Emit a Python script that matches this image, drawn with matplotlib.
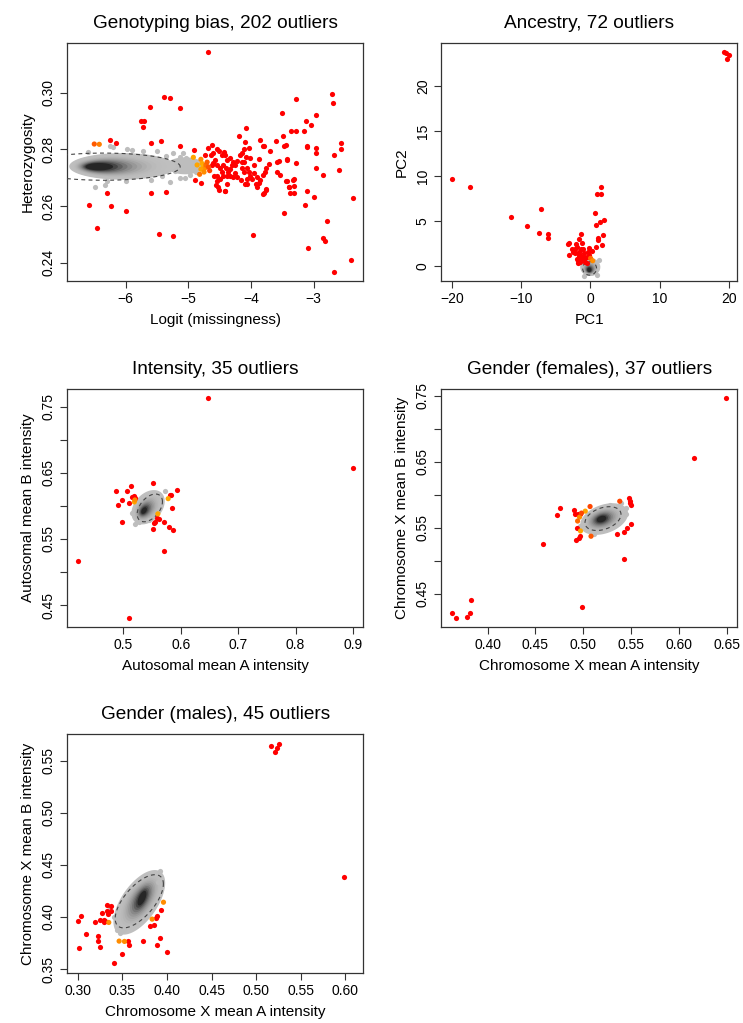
import numpy as np
import matplotlib
matplotlib.use('Agg')
import matplotlib.pyplot as plt
from matplotlib.patches import Polygon

plt.rcParams['font.family'] = ['Liberation Sans', 'DejaVu Sans']

# ---------------- Genotyping bias ----------------
gb_red_x = [-4.68, -2.71, -2.70, -5.29, -5.39, -5.61, -5.13, -3.28, -3.50, -2.97,
            -3.12, -3.04, -5.76, -5.70, -5.73, -4.08, -4.19, -3.49, -3.37, -3.29,
            -3.15, -4.10, -3.85, -3.60, -3.47, -3.81, -5.43, -5.59, -6.25, -6.15,
            -5.13, -3.11, -3.10, -2.97, -2.97, -2.57, -2.56, -2.67, -2.59, -2.97,
            -3.43, -3.29, -2.86, -3.43, -3.33, -3.32, -3.38, -3.32, -3.40, -3.10,
            -2.99, -3.14, -2.37, -3.48, -2.79, -2.86, -2.82, -3.09, -2.41, -2.67,
            -3.97, -5.24, -5.47, -6.00, -6.46, -6.58, -6.24, -6.29, -5.60, -5.36,
            -3.76, -3.80, -4.41, -4.07, -4.80, -4.91, -4.89,
            -4.63, -4.69, -4.55, -4.51, -4.43, -4.41, -4.60, -4.74, -4.64, -4.34,
            -4.12, -4.04, -4.14, -4.08, -4.01, -4.11, -3.88, -3.79, -3.69, -3.45,
            -3.42,
            -4.57, -4.60, -4.63, -4.55, -4.49, -4.44, -4.40, -4.36, -4.34, -4.31,
            -4.28, -4.26, -4.28, -4.34, -4.39, -4.44, -4.47, -4.49, -4.54, -4.55,
            -4.59, -4.52, -4.41, -4.39, -4.26, -4.22, -4.15, -4.15, -4.12, -4.07,
            -4.04, -4.02, -3.99, -3.95, -3.91, -3.88, -3.86, -3.81, -3.78, -3.76,
            -3.90, -3.92, -4.07, -4.10, -4.16, -4.23, -3.71, -3.59, -3.56, -3.59,
            -3.54, -3.45, -3.40, -3.32, -3.76, -3.81, -4.39, -4.47, -4.18, -3.96,
            -4.51, -4.56]
gb_red_y = [0.3143, 0.2997, 0.2965, 0.2980, 0.2984, 0.2950, 0.2948, 0.2978, 0.2930, 0.2922,
            0.2902, 0.2886, 0.2899, 0.2899, 0.2878, 0.2877, 0.2847, 0.2846, 0.2864, 0.2864,
            0.2864, 0.2827, 0.2832, 0.2829, 0.2813, 0.2813, 0.2829, 0.2824, 0.2834, 0.2821,
            0.2812, 0.2813, 0.2807, 0.2805, 0.2789, 0.2821, 0.2802, 0.2782, 0.2728, 0.2734,
            0.2765, 0.2751, 0.2709, 0.2687, 0.2692, 0.2672, 0.2645, 0.2645, 0.2666, 0.2653,
            0.2633, 0.2604, 0.2627, 0.2577, 0.2548, 0.2486, 0.2475, 0.2451, 0.2408, 0.2367,
            0.2497, 0.2493, 0.2500, 0.2583, 0.2523, 0.2603, 0.2601, 0.2645, 0.2647, 0.2650,
            0.2661, 0.2647, 0.2654, 0.2679, 0.2683, 0.2798, 0.2692,
            0.2817, 0.2804, 0.2802, 0.2794, 0.2792, 0.2782, 0.2786, 0.2780, 0.2779, 0.2769,
            0.2801, 0.2804, 0.2786, 0.2774, 0.2771, 0.2757, 0.2767, 0.2812, 0.2794, 0.2814,
            0.2763,
            0.2762, 0.2753, 0.2744, 0.2744, 0.2733, 0.2744, 0.2733, 0.2721, 0.2729, 0.2744,
            0.2756, 0.2715, 0.2701, 0.2706, 0.2706, 0.2706, 0.2721, 0.2697, 0.2689, 0.2706,
            0.2706, 0.2668, 0.2654, 0.2676, 0.2744, 0.2760, 0.2756, 0.2733, 0.2721, 0.2736,
            0.2721, 0.2706, 0.2694, 0.2715, 0.2701, 0.2680, 0.2692, 0.2709, 0.2721, 0.2733,
            0.2666, 0.2677, 0.2694, 0.2677, 0.2691, 0.2701, 0.2748, 0.2755, 0.2760, 0.2720,
            0.2709, 0.2689, 0.2668, 0.2694, 0.2658, 0.2644, 0.2762, 0.2780, 0.2780, 0.2744,
            0.2656, 0.2674]
gb_mid_x = [-6.50, -6.42, -4.92, -4.80, -4.78, -4.76, -4.74, -4.80, -4.72, -4.70,
            -4.68, -4.82, -4.75, -4.66, -4.86]
gb_mid_y = [0.2819, 0.2818, 0.2772, 0.2765, 0.2750, 0.2740, 0.2733, 0.2730, 0.2745, 0.2755,
            0.2738, 0.2712, 0.2720, 0.2725, 0.2745]
gb_mid_c = ['#FF5A00', '#FF7F00', '#FFA500', '#FF8C00', '#FFA500', '#FFB000', '#FF9000',
            '#FFA000', '#FF7000', '#FF6000', '#FF5000', '#FF7000', '#FF8C00', '#FF4500', '#FFA500']
gb_grey_x = [-6.49, -6.33, -6.25, -6.20, -5.98, -5.90, -5.72, -5.24, -5.13, -5.08,
             -5.03, -5.00, -4.95, -5.05, -5.13, -5.29, -4.92, -4.87, -6.30, -6.00,
             -5.60, -6.60, -5.50, -5.18, -4.97, -5.35, -5.42, -5.22]
gb_grey_y = [0.2668, 0.2674, 0.2812, 0.2810, 0.2802, 0.2797, 0.2795, 0.2786, 0.2774, 0.2786,
             0.2769, 0.2738, 0.2727, 0.2698, 0.2698, 0.2686, 0.2756, 0.2721, 0.2688, 0.2690,
             0.2692, 0.2790, 0.2793, 0.2760, 0.2710, 0.2775, 0.2705, 0.2722]

# ---------------- Ancestry ----------------
an_red_x = [19.28, 19.66, 20.0, 19.71, -20.0, -17.4, -11.42, -9.2, -7.18, -7.47,
            -6.17, -6.17, -3.23, -3.04, -3.04, 1.59, 1.01, 1.59, 0.72, 1.40,
            2.02, 0.77, 1.88, 1.06, 1.06, 1.64, 0.82, -1.40, -1.69, -1.20,
            -2.27, -1.88, -1.40, -0.24, 0.24, -2.17, -1.69, -0.92, -0.53, -1.30,
            -1.78, -0.72, -0.24, -1.69, -1.11, -2.46, -1.98, -2.65, -0.48, -2.07,
            -1.45, -0.95, -1.60, -0.40, -1.00, -1.75]
an_red_y = [23.75, 23.64, 23.5, 22.97, 9.68, 8.72, 5.42, 4.45, 6.34, 3.6,
            3.56, 3.08, 2.45, 2.49, 1.15, 8.79, 7.94, 7.94, 5.83, 4.90,
            5.12, 4.53, 3.41, 3.04, 2.86, 2.30, 2.08, 3.52, 3.00, 2.56,
            1.89, 2.08, 1.89, 2.00, 1.67, 1.37, 1.08, 1.37, 1.00, 0.70,
            0.26, 0.45, 1.19, 1.56, 1.82, 1.56, 0.78, 1.82, 0.26, 2.41,
            0.45, 0.75, 1.30, 1.50, 1.10, 0.55]
an_mid_x = [0.05, 0.35]
an_mid_y = [0.82, 0.55]
an_mid_c = ['#FF6A00', '#FF8C00']
an_grey_x = [-1.3, 1.2, 0.9, -0.9]
an_grey_y = [0.5, 0.6, -1.0, -1.1]

# ---------------- Intensity ----------------
in_red_x = [0.648, 0.900, 0.420, 0.510, 0.487, 0.513, 0.507, 0.552, 0.593, 0.583,
            0.490, 0.498, 0.515, 0.521, 0.510, 0.585, 0.498, 0.553, 0.555, 0.558,
            0.570, 0.580, 0.587, 0.551, 0.571, 0.562, 0.519, 0.581]
in_red_y = [0.763, 0.658, 0.517, 0.431, 0.623, 0.630, 0.623, 0.634, 0.624, 0.617,
            0.602, 0.609, 0.614, 0.612, 0.605, 0.597, 0.576, 0.574, 0.576, 0.581,
            0.575, 0.568, 0.563, 0.565, 0.532, 0.580, 0.615, 0.616]
in_mid_x = [0.519, 0.520, 0.578, 0.560]
in_mid_y = [0.606, 0.609, 0.611, 0.588]
in_mid_c = ['#FFA500', '#FF8C00', '#FFA500', '#FFA500']
in_grey_x = [0.520, 0.528, 0.545, 0.572, 0.515]
in_grey_y = [0.573, 0.575, 0.578, 0.622, 0.590]

# ---------------- Gender (females) ----------------
gf_red_x = [0.649, 0.615, 0.363, 0.367, 0.379, 0.382, 0.383, 0.499, 0.458, 0.472,
            0.476, 0.490, 0.491, 0.494, 0.496, 0.493, 0.492, 0.495, 0.497, 0.535,
            0.542, 0.546, 0.550, 0.542, 0.548, 0.549, 0.549, 0.550]
gf_red_y = [0.7465, 0.6556, 0.420, 0.413, 0.414, 0.421, 0.440, 0.430, 0.525, 0.569,
            0.580, 0.577, 0.570, 0.570, 0.571, 0.549, 0.532, 0.535, 0.538, 0.541,
            0.544, 0.550, 0.556, 0.502, 0.595, 0.591, 0.588, 0.585]
gf_mid_x = [0.538, 0.507, 0.508, 0.502, 0.497, 0.496, 0.494, 0.498]
gf_mid_y = [0.590, 0.582, 0.537, 0.575, 0.545, 0.566, 0.560, 0.572]
gf_mid_c = ['#FF4500', '#FF4500', '#FF5500', '#FFA500', '#FFA500', '#FF8C00', '#FF6A00', '#FF4500']
gf_grey_x = [0.496, 0.5448, 0.544, 0.5107, 0.5396, 0.5274]
gf_grey_y = [0.5526, 0.5794, 0.5708, 0.540, 0.587, 0.5844]

# ---------------- Gender (males) ----------------
gm_red_x = [0.5166, 0.5215, 0.523, 0.5256, 0.598, 0.300, 0.3037, 0.3015, 0.3097, 0.319,
            0.3224, 0.3224, 0.3247, 0.325, 0.327, 0.3296, 0.331, 0.3296, 0.3333, 0.3374,
            0.3333, 0.3374, 0.3344, 0.3408, 0.3501, 0.3569, 0.358, 0.3737, 0.3894, 0.3917,
            0.4006, 0.3812, 0.385, 0.3872, 0.3894, 0.3928]
gm_red_y = [0.5637, 0.558, 0.562, 0.5663, 0.4384, 0.3962, 0.401, 0.3704, 0.3841, 0.3953,
            0.3813, 0.3771, 0.3707, 0.3966, 0.4042, 0.3972, 0.3962, 0.3947, 0.4112, 0.4109,
            0.4055, 0.4058, 0.4030, 0.3554, 0.3644, 0.3771, 0.3733, 0.3771, 0.3726, 0.3797,
            0.3666, 0.3912, 0.3924, 0.3985, 0.4007, 0.4065]
gm_mid_x = [0.3464, 0.3524, 0.3961, 0.3834, 0.3348]
gm_mid_y = [0.3768, 0.3765, 0.4141, 0.3979, 0.3947]
gm_mid_c = ['#FF8C00'] * 5
gm_grey_x = [0.3924, 0.3905, 0.3456, 0.3438, 0.3475, 0.3512, 0.3362, 0.3410]
gm_grey_y = [0.4444, 0.4338, 0.3940, 0.3876, 0.3844, 0.3876, 0.4099, 0.4000]

# cluster summaries: (cx, cy, sx, sy, r)
clusters = {
    'gb': dict(blob=(-6.05, 0.2740, 0.85, 0.0047, 0.0), core=(-6.42, 0.2739, 0.22, 0.0013, 0.0),
               tail=(-5.05, 0.2742, 0.30, 0.0030, 0.0), dash=(-6.35, 0.2739, 1.22, 0.0048, 0.0)),
    'an': dict(blob=(0.0, -0.15, 1.45, 1.0, 0.0), core=(-0.15, -0.45, 0.3, 0.25, 0.0),
               tail=None, dash=(-0.1, -0.3, 1.0, 0.75, 0.0)),
    'in': dict(blob=(0.543, 0.598, 0.029, 0.026, 0.35), core=(0.536, 0.593, 0.005, 0.005, 0.4),
               tail=None, dash=(0.546, 0.597, 0.022, 0.021, 0.45)),
    'gf': dict(blob=(0.5217, 0.563, 0.025, 0.024, 0.35), core=(0.519, 0.563, 0.005, 0.005, 0.3),
               tail=None, dash=(0.5205, 0.5637, 0.0188, 0.018, 0.35)),
    'gm': dict(blob=(0.369, 0.414, 0.029, 0.031, 0.6), core=(0.372, 0.418, 0.005, 0.007, 0.6),
               tail=None, dash=(0.369, 0.415, 0.027, 0.0255, 0.65)),
}


def corr_ellipse(cx, cy, sx, sy, r, n=120):
    t = np.linspace(0, 2 * np.pi, n)
    x = cx + sx * np.cos(t)
    y = cy + sy * (r * np.cos(t) + np.sqrt(1 - r * r) * np.sin(t))
    return np.column_stack([x, y])


def draw_cluster(ax, c):
    blob, core = np.array(c['blob']), np.array(c['core'])
    if c['tail'] is not None:
        ax.add_patch(Polygon(corr_ellipse(*c['tail']), closed=True, fc='#bdbdbd', ec='none', zorder=1))
    nlev = 14
    for i in range(nlev):
        k = i / (nlev - 1)
        p = blob + (core - blob) * k
        g = 0.75 - 0.6 * k ** 2.8
        ax.add_patch(Polygon(corr_ellipse(*p), closed=True, fc=(g, g, g), ec='none', zorder=1 + k))
    d = corr_ellipse(*c['dash'])
    ax.plot(d[:, 0], d[:, 1], color='#444444', lw=0.8, ls=(0, (3.5, 3)), zorder=3)


def panel(rect, title, xlabel, ylabel, xlim, ylim, xt, xtl, yt, ytl, c,
          red, mid, grey):
    ax = fig.add_axes(rect)
    draw_cluster(ax, c)
    ax.scatter(grey[0], grey[1], s=14, color='#bdbdbd', lw=0, zorder=2)
    ax.scatter(red[0], red[1], s=14, color='#FF0000', lw=0, zorder=4)
    ax.scatter(mid[0], mid[1], s=14, color=mid[2], lw=0, zorder=5)
    ax.set_xlim(*xlim)
    ax.set_ylim(*ylim)
    ax.set_xticks(xt)
    ax.set_xticklabels(xtl)
    ax.set_yticks(yt)
    ax.set_yticklabels(ytl, rotation=90, va='center')
    ax.tick_params(length=5, width=0.8, labelsize=10, pad=3, color='#333333')
    for s in ax.spines.values():
        s.set_linewidth(0.9)
        s.set_color('#333333')
    ax.set_title(title, fontsize=13.7, pad=11)
    ax.set_xlabel(xlabel, fontsize=11, labelpad=5)
    ax.set_ylabel(ylabel, fontsize=11, labelpad=5)
    return ax


fig = plt.figure(figsize=(7.43, 10.23), dpi=100)

W, H = 743.0, 1023.0


def rect(l, t, r, b):
    return [l / W, 1 - b / H, (r - l) / W, (b - t) / H]


panel(rect(67, 43.3, 363.3, 280.7), 'Genotyping bias, 202 outliers', 'Logit (missingness)',
      'Heterozygosity', (-6.935, -2.21), (0.2336, 0.3175),
      [-6, -5, -4, -3], ['\u22126', '\u22125', '\u22124', '\u22123'],
      [0.24, 0.26, 0.28, 0.30], ['0.24', '0.26', '0.28', '0.30'], clusters['gb'],
      (gb_red_x, gb_red_y), (gb_mid_x, gb_mid_y, gb_mid_c), (gb_grey_x, gb_grey_y))

panel(rect(441, 43.3, 737.3, 280.7), 'Ancestry, 72 outliers', 'PC1', 'PC2',
      (-21.57, 21.24), (-1.67, 24.77),
      [-20, -10, 0, 10, 20], ['\u221220', '\u221210', '0', '10', '20'],
      [0, 5, 10, 15, 20], ['0', '5', '10', '15', '20'], clusters['an'],
      (an_red_x, an_red_y), (an_mid_x, an_mid_y, an_mid_c), (an_grey_x, an_grey_y))

panel(rect(67, 389, 363.3, 627), 'Intensity, 35 outliers', 'Autosomal mean A intensity',
      'Autosomal mean B intensity', (0.4017, 0.918), (0.4167, 0.777),
      [0.5, 0.6, 0.7, 0.8, 0.9], ['0.5', '0.6', '0.7', '0.8', '0.9'],
      [0.45, 0.50, 0.55, 0.60, 0.65, 0.70, 0.75], ['0.45', '', '0.55', '', '0.65', '', '0.75'],
      clusters['in'], (in_red_x, in_red_y), (in_mid_x, in_mid_y, in_mid_c), (in_grey_x, in_grey_y))

panel(rect(441, 389, 737.3, 627), 'Gender (females), 37 outliers', 'Chromosome X mean A intensity',
      'Chromosome X mean B intensity', (0.3514, 0.6607), (0.3995, 0.760),
      [0.40, 0.45, 0.50, 0.55, 0.60, 0.65], ['0.40', '0.45', '0.50', '0.55', '0.60', '0.65'],
      [0.45, 0.50, 0.55, 0.60, 0.65, 0.70, 0.75], ['0.45', '', '0.55', '', '0.65', '', '0.75'],
      clusters['gf'], (gf_red_x, gf_red_y), (gf_mid_x, gf_mid_y, gf_mid_c), (gf_grey_x, gf_grey_y))

panel(rect(67, 734.3, 363.3, 972.7), 'Gender (males), 45 outliers', 'Chromosome X mean A intensity',
      'Chromosome X mean B intensity', (0.288, 0.620), (0.3465, 0.5752),
      [0.30, 0.35, 0.40, 0.45, 0.50, 0.55, 0.60], ['0.30', '0.35', '0.40', '0.45', '0.50', '0.55', '0.60'],
      [0.35, 0.40, 0.45, 0.50, 0.55], ['0.35', '0.40', '0.45', '0.50', '0.55'],
      clusters['gm'], (gm_red_x, gm_red_y), (gm_mid_x, gm_mid_y, gm_mid_c), (gm_grey_x, gm_grey_y))

fig.savefig('out.png', dpi=100)
